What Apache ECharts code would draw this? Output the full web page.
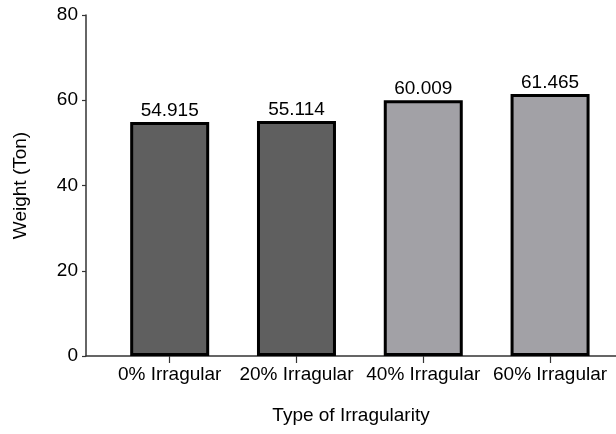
<!DOCTYPE html>
<html>
<head>
<meta charset="utf-8">
<script src="https://cdn.jsdelivr.net/npm/echarts@6/dist/echarts.min.js"></script>
<style>
  html, body { margin: 0; padding: 0; background: #fff; }
  #chart { width: 616px; height: 434px; }
</style>
</head>
<body>
<div id="chart"></div>
<script>
// Weight per irregularity case
const categories = ['0% Irragular', '20% Irragular', '40% Irragular', '60% Irragular'];
const weights = [54.915, 55.114, 60.009, 61.465];
const barColors = ['#5f5f5f', '#5f5f5f', '#a2a1a6', '#a2a1a6'];
const yTicks = [0, 20, 40, 60, 80];

// bars sit at positions 1..n on a numeric x axis
const positions = categories.map((_, i) => i + 1);

const font = 'Liberation Sans, Arial, sans-serif';
const chart = echarts.init(document.getElementById('chart'), null, { renderer: 'canvas' });

chart.setOption({
  backgroundColor: '#ffffff',
  animation: false,
  grid: { left: 86, right: 0, top: 15, bottom: 78, containLabel: false },
  xAxis: {
    type: 'value',
    min: 0.34,
    max: 4.52,
    name: 'Type of Irragularity',
    nameLocation: 'middle',
    nameGap: 50,
    nameTextStyle: { fontFamily: font, fontSize: 19, color: '#000' },
    splitLine: { show: false },
    axisLine: { show: true, lineStyle: { color: '#333', width: 1.5 } },
    axisTick: { show: true, length: 7, customValues: positions, lineStyle: { color: '#333', width: 1.2 } },
    axisLabel: {
      customValues: positions,
      margin: 9,
      fontFamily: font, fontSize: 19, color: '#000',
      formatter: v => categories[Math.round(v) - 1] || ''
    }
  },
  yAxis: {
    type: 'value',
    min: yTicks[0],
    max: yTicks[yTicks.length - 1],
    interval: 20,
    name: 'Weight (Ton)',
    nameLocation: 'middle',
    nameGap: 56,
    nameTextStyle: { fontFamily: font, fontSize: 19, color: '#000' },
    splitLine: { show: false },
    axisLine: { show: true, lineStyle: { color: '#333', width: 1.5 } },
    axisTick: { show: true, inside: false, length: 4, lineStyle: { color: '#333', width: 1.2 } },
    axisLabel: { margin: 8, fontFamily: font, fontSize: 19, color: '#000' }
  },
  series: [{
    type: 'bar',
    barWidth: 79,
    data: weights.map((w, i) => ({
      value: [positions[i], w],
      itemStyle: { color: barColors[i] }
    })),
    itemStyle: { borderColor: '#000', borderWidth: 3 },
    label: {
      show: true,
      position: 'top',
      distance: 2,
      fontFamily: font, fontSize: 19, color: '#000',
      formatter: p => p.value[1].toFixed(3)
    }
  }]
});
</script>
</body>
</html>
